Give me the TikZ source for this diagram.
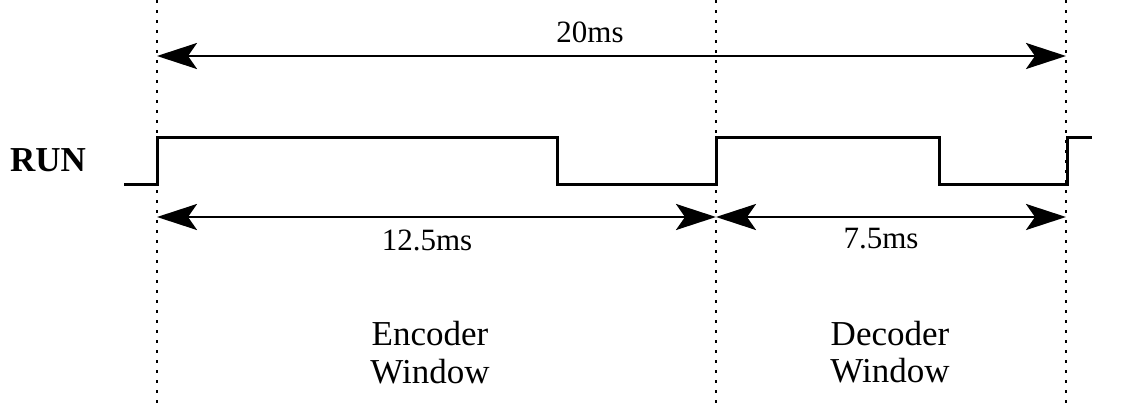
\documentclass[tikz,border=0pt]{standalone}
\usepackage{fontspec}
\setmainfont{Liberation Serif}
\usetikzlibrary{arrows.meta}
\begin{document}
\begin{tikzpicture}[x=1pt,y=-1pt,
  guide/.style={line width=2pt,dash pattern=on 3pt off 7pt},
  wave/.style={line width=3pt,line join=miter},
  dim/.style={line width=2.8pt,{Stealth[length=40pt,width=26pt,inset=9pt]}-{Stealth[length=40pt,width=26pt,inset=9pt]}},
  lbl/.style={font=\fontsize{31}{38}\selectfont,inner sep=0pt,anchor=base},
  win/.style={font=\fontsize{35}{38}\selectfont,inner sep=0pt,anchor=base}]
\useasboundingbox (0,0) rectangle (1121,405);
% guide lines
\coordinate (g1t) at (157,0); \coordinate (g1b) at (157,405);
\coordinate (g2t) at (716,0); \coordinate (g2b) at (716,405);
\coordinate (g3t) at (1066,0); \coordinate (g3b) at (1066,405);
\draw[guide] (g1t) -- (g1b);
\draw[guide] (g2t) -- (g2b);
\draw[guide] (g3t) -- (g3b);
% waveform
\coordinate (w0) at (124,184);
\coordinate (w1) at (157,184);
\coordinate (w2) at (557,137);
\coordinate (w3) at (716,184);
\coordinate (w4) at (939,137);
\coordinate (w5) at (1067,184);
\coordinate (w6) at (1092,137);
\draw[wave] (w0) -- (w1) |- (w2) |- (w3) |- (w4) |- (w5) |- (w6);
% dimension arrows
\coordinate (a1) at (157,56); \coordinate (a2) at (1066,56);
\coordinate (b1) at (157,217); \coordinate (b2) at (716,217); \coordinate (b3) at (1066,217);
\draw[dim] (a1) -- (a2);
\draw[dim] (b1) -- (b2);
\draw[dim] (b2) -- (b3);
% labels
\node[lbl] (t20) at (590,42) {20ms};
\node[lbl] (t125) at (427,250) {12.5ms};
\node[lbl] (t75) at (881,248) {7.5ms};
\node[font=\fontsize{35}{40}\selectfont\bfseries,inner sep=0pt,anchor=base west] (run) at (10,171) {RUN};
\node[win] (enc1) at (430,345) {Encoder};
\node[win] (enc2) at (430,383) {Window};
\node[win] (dec1) at (890,345) {Decoder};
\node[win] (dec2) at (890,382) {Window};
\end{tikzpicture}
\end{document}
